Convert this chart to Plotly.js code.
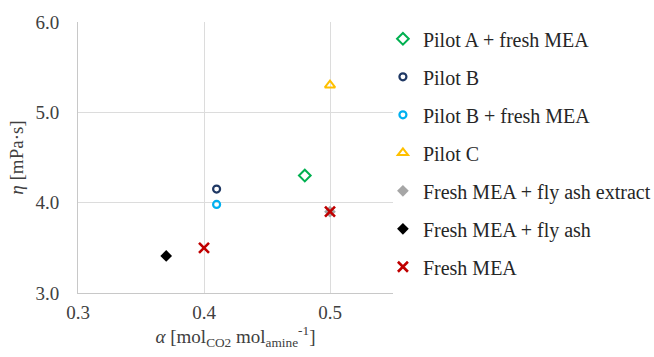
<!DOCTYPE html>
<html><head><meta charset="utf-8">
<script src="https://cdn.plot.ly/plotly-3.0.1.min.js"></script>
<style>html,body{margin:0;padding:0;background:#fff}#c{width:654px;height:357px}</style>
</head><body><div id="c"></div>
<script>
const seriesNames = ["Pilot A + fresh MEA","Pilot B","Pilot B + fresh MEA","Pilot C","Fresh MEA + fly ash extract","Fresh MEA + fly ash","Fresh MEA"];
const alphaA = [0.48];   const etaA = [4.30];
const alphaB = [0.41];   const etaB = [4.15];
const alphaBf = [0.41];  const etaBf = [3.98];
const alphaC = [0.50];   const etaC = [5.30];
const alphaExt = [0.50]; const etaExt = [3.90];
const alphaAsh = [0.37]; const etaAsh = [3.41];
const alphaMEA = [0.40, 0.50]; const etaMEA = [3.50, 3.90];
const xTicks = [0.3, 0.4, 0.5];
const yTicks = [3.0, 4.0, 5.0, 6.0];

const FONT = 'Liberation Serif, Times New Roman, serif';
const xs=[alphaA,alphaB,alphaBf,alphaC,alphaExt,alphaAsh,alphaMEA];
const ys=[etaA,etaB,etaBf,etaC,etaExt,etaAsh,etaMEA];
const styles=[
 {symbol:'diamond-open',size:9,color:'#00b050',line:{width:2,color:'#00b050'}},
 {symbol:'circle-open',size:7,color:'#1f3864',line:{width:2.2,color:'#1f3864'}},
 {symbol:'circle-open',size:7,color:'#00b0f0',line:{width:2.2,color:'#00b0f0'}},
 {symbol:'triangle-up-open',size:9,color:'#ffc000',line:{width:2,color:'#ffc000'}},
 {symbol:'diamond',size:9,color:'#a6a6a6',line:{width:0}},
 {symbol:'diamond',size:9,color:'#000000',line:{width:0}},
 {symbol:'x-thin-open',size:10,color:'#c00000',line:{width:2.6,color:'#c00000'}}
];
const data=seriesNames.map((n,i)=>({type:'scatter',mode:'markers',name:n,x:xs[i],y:ys[i],marker:styles[i],legendgroup:'g'+i}));
const layout={
 width:654,height:357,margin:{l:78,r:261,t:22,b:64,autoexpand:false},
 paper_bgcolor:'#fff',plot_bgcolor:'#fff',
 font:{family:FONT,size:19,color:'#262626'},
 showlegend:true,
 legend:{x:0.968,xanchor:'left',y:1.01,yanchor:'top',maxheight:357,traceorder:'grouped',tracegroupgap:9,itemwidth:30,font:{family:FONT,size:20,color:'#262626'},bgcolor:'rgba(0,0,0,0)'},
 xaxis:{range:[0.3,0.55],tickvals:xTicks,ticktext:xTicks.map(v=>v.toFixed(1)),showgrid:true,gridcolor:'#dcdcdc',gridwidth:1,zeroline:false,showline:true,linecolor:'#c8c8c8',linewidth:1,ticks:'',ticklabelstandoff:2,tickfont:{family:FONT,size:19,color:'#404040'},
   title:{text:'<i>α</i> [mol<sub>CO2</sub> mol<sub>amine</sub><sup>-1</sup>]',font:{family:FONT,size:19,color:'#404040'},standoff:0}},
 yaxis:{range:[3,6],tickvals:yTicks,ticktext:yTicks.map(v=>v.toFixed(1)),showgrid:true,gridcolor:'#dcdcdc',gridwidth:1,zeroline:false,showline:true,linecolor:'#c8c8c8',linewidth:1,ticks:'',ticklabelstandoff:14,tickfont:{family:FONT,size:19,color:'#404040'},
   title:{text:'<i>η</i> [mPa·s]',font:{family:FONT,size:19,color:'#404040'},standoff:6}}
};
Plotly.newPlot('c',data,layout,{displayModeBar:false,staticPlot:true});
</script></body></html>
